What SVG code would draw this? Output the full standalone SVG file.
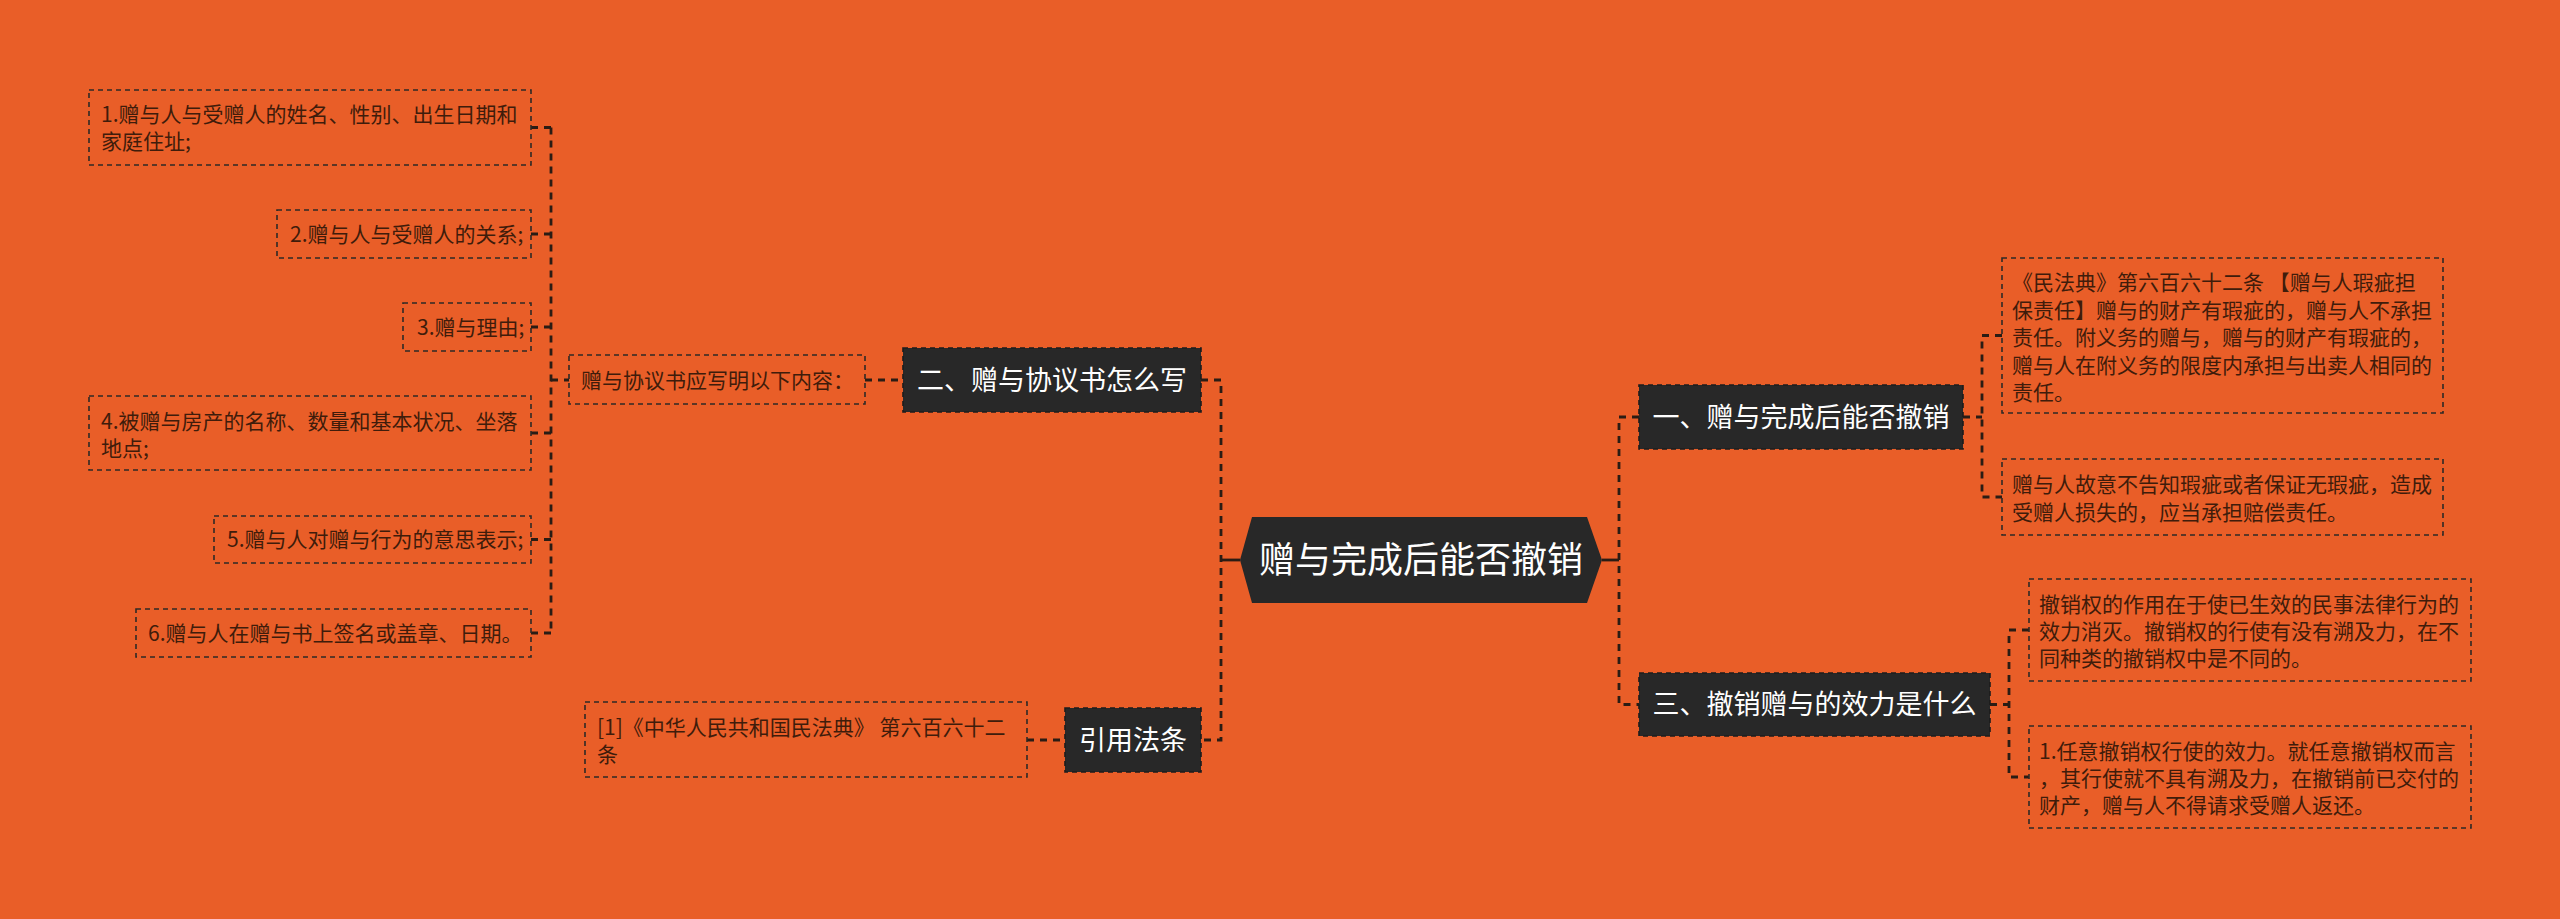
<svg xmlns="http://www.w3.org/2000/svg" width="2560" height="919" viewBox="0 0 2560 919">
<style>
.bg{fill:#E95E28}
.leaf{fill:none;stroke:#2e2a26;stroke-width:1.6;stroke-dasharray:5 4}
.ltxt{font-family:"Noto Sans CJK SC","Noto Sans",sans-serif;font-size:21px;fill:#3f1c0b}
.dark{fill:#282828;stroke:#1c1c1c;stroke-width:1.6;stroke-dasharray:5 4}
.dtxt{font-family:"Noto Sans CJK SC","Noto Sans",sans-serif;font-size:27px;fill:#ffffff;text-anchor:middle}
.ctxt{font-family:"Noto Sans CJK SC","Noto Sans",sans-serif;font-size:36px;fill:#ffffff;text-anchor:middle}
.conn{fill:none;stroke:#2a1c14;stroke-width:2.8;stroke-dasharray:7 6}
.solid{fill:none;stroke:#2a1c14;stroke-width:2.8}
</style>
<rect class="bg" x="0" y="0" width="2560" height="919"/>
<g id="connectors">
<path class="conn" d="M551 127.5 V633"/>
<path class="conn" d="M531 127.5 H551"/>
<path class="conn" d="M531 234 H551"/>
<path class="conn" d="M531 327 H551"/>
<path class="conn" d="M531 433 H551"/>
<path class="conn" d="M531 539.5 H551"/>
<path class="conn" d="M531 633 H551"/>
<path class="conn" d="M551 380 H569"/>
<path class="conn" d="M865 380 H903"/>
<path class="conn" d="M1201 380 H1221 V740 H1201"/>
<path class="solid" d="M1221 560 H1240"/>
<path class="conn" d="M1027 740 H1065"/>
<path class="solid" d="M1602 560 H1619"/>
<path class="conn" d="M1639 417 H1619 V704.5 H1639"/>
<path class="conn" d="M1963 417 H1982"/>
<path class="conn" d="M2002 335.5 H1982 V497 H2002"/>
<path class="conn" d="M1990 704.5 H2009"/>
<path class="conn" d="M2029 630 H2009 V777 H2029"/>
</g>
<g id="root">
<polygon points="1240,560 1252,517 1587,517 1602,560 1587,603 1252,603" fill="#282828"/>
<text class="ctxt" x="1421" y="573">赠与完成后能否撤销</text>
</g>
<g id="n-write">
<rect class="dark" x="903" y="348" width="298" height="64"/>
<text class="dtxt" x="1052" y="390">二、赠与协议书怎么写</text>
</g>
<g id="n-cite">
<rect class="dark" x="1065" y="708" width="136" height="64"/>
<text class="dtxt" x="1133" y="750">引用法条</text>
</g>
<g id="n-revoke">
<rect class="dark" x="1639" y="385" width="324" height="64"/>
<text class="dtxt" x="1801" y="427">一、赠与完成后能否撤销</text>
</g>
<g id="n-effect">
<rect class="dark" x="1639" y="673" width="351" height="63"/>
<text class="dtxt" x="1814.5" y="714">三、撤销赠与的效力是什么</text>
</g>
<g id="l-intro">
<rect class="leaf" x="569" y="355" width="296" height="49"/>
<text class="ltxt" x="581" y="387.5">赠与协议书应写明以下内容：</text>
</g>
<g id="l-1">
<rect class="leaf" x="89" y="90" width="442" height="75"/>
<text class="ltxt" x="101" y="122">1.赠与人与受赠人的姓名、性别、出生日期和</text>
<text class="ltxt" x="101" y="149">家庭住址;</text>
</g>
<g id="l-2">
<rect class="leaf" x="277" y="210" width="254" height="48"/>
<text class="ltxt" x="290" y="241.5">2.赠与人与受赠人的关系;</text>
</g>
<g id="l-3">
<rect class="leaf" x="403" y="303" width="128" height="48"/>
<text class="ltxt" x="417" y="334.5">3.赠与理由;</text>
</g>
<g id="l-4">
<rect class="leaf" x="89" y="396" width="442" height="74"/>
<text class="ltxt" x="101" y="429">4.被赠与房产的名称、数量和基本状况、坐落</text>
<text class="ltxt" x="101" y="456">地点;</text>
</g>
<g id="l-5">
<rect class="leaf" x="214" y="516" width="317" height="47"/>
<text class="ltxt" x="227" y="547">5.赠与人对赠与行为的意思表示;</text>
</g>
<g id="l-6">
<rect class="leaf" x="136" y="609" width="395" height="48"/>
<text class="ltxt" x="148" y="640.5">6.赠与人在赠与书上签名或盖章、日期。</text>
</g>
<g id="l-cite">
<rect class="leaf" x="585" y="702" width="442" height="75"/>
<text class="ltxt" x="597" y="735">[1]《中华人民共和国民法典》 第六百六十二</text>
<text class="ltxt" x="597" y="762">条</text>
</g>
<g id="l-a">
<rect class="leaf" x="2002" y="258" width="441" height="155"/>
<text class="ltxt" x="2012" y="290">《民法典》第六百六十二条 【赠与人瑕疵担</text>
<text class="ltxt" x="2012" y="317.5">保责任】赠与的财产有瑕疵的，赠与人不承担</text>
<text class="ltxt" x="2012" y="345">责任。附义务的赠与，赠与的财产有瑕疵的，</text>
<text class="ltxt" x="2012" y="372.5">赠与人在附义务的限度内承担与出卖人相同的</text>
<text class="ltxt" x="2012" y="400">责任。</text>
</g>
<g id="l-b">
<rect class="leaf" x="2002" y="459" width="441" height="76"/>
<text class="ltxt" x="2012" y="492">赠与人故意不告知瑕疵或者保证无瑕疵，造成</text>
<text class="ltxt" x="2012" y="519.5">受赠人损失的，应当承担赔偿责任。</text>
</g>
<g id="l-c">
<rect class="leaf" x="2029" y="579" width="442" height="102"/>
<text class="ltxt" x="2039" y="612">撤销权的作用在于使已生效的民事法律行为的</text>
<text class="ltxt" x="2039" y="639">效力消灭。撤销权的行使有没有溯及力，在不</text>
<text class="ltxt" x="2039" y="666">同种类的撤销权中是不同的。</text>
</g>
<g id="l-d">
<rect class="leaf" x="2029" y="726" width="442" height="102"/>
<text class="ltxt" x="2039" y="759">1.任意撤销权行使的效力。就任意撤销权而言</text>
<text class="ltxt" x="2039" y="786">，其行使就不具有溯及力，在撤销前已交付的</text>
<text class="ltxt" x="2039" y="813">财产，赠与人不得请求受赠人返还。</text>
</g>
</svg>
